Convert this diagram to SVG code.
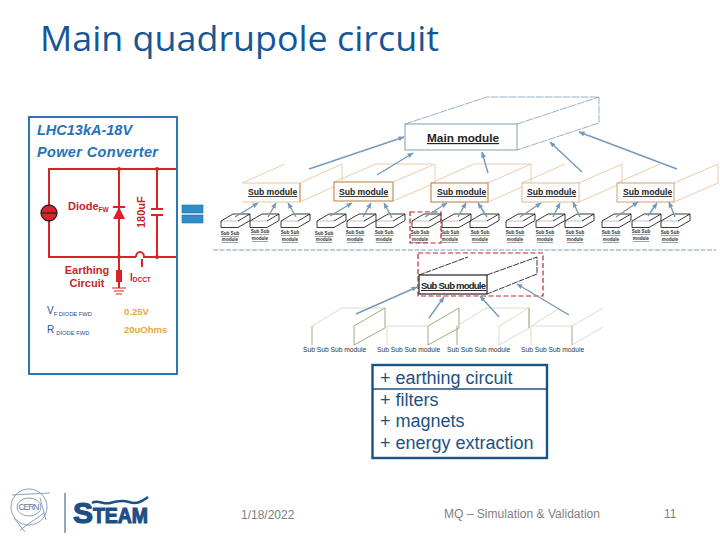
<svg xmlns="http://www.w3.org/2000/svg" width="720" height="540" viewBox="0 0 720 540">
<style>
text{font-family:"Liberation Sans",Arial,sans-serif}
.w{fill:none;stroke:#d9232a;stroke-width:2}
.ar{fill:none;stroke:#7499ba;stroke-width:1.4;marker-end:url(#a)}
.mm{fill:#fff;stroke:#7e9fb5;stroke-width:1}
.md{fill:none;stroke:#7e9fb5;stroke-width:.8;stroke-dasharray:8 1}
.sm{fill:#fff;stroke:#c98f55;stroke-width:1.2}
.sd{fill:none;stroke:#e8c6a2;stroke-width:.9}
.bd{fill:none;stroke:#222;stroke-width:.9}
.bl{fill:none;stroke:#aaa;stroke-width:.7}
.g{fill:none;stroke:#8ea56f;stroke-width:.9}
.gl{fill:none;stroke:#cfdcbf;stroke-width:.9}
.lab{font-size:8.6px;font-weight:bold;fill:#222;text-decoration:underline}
.tiny{font-size:4.6px;font-weight:bold;fill:#333;text-decoration:underline;text-anchor:middle}
.ss{font-size:6.7px;fill:#333}
.red{fill:none;stroke:#c1272d;stroke-width:1.2;stroke-dasharray:5 2.5}
.ft{font-size:12px;fill:#808080}
.bx{font-size:18px;fill:#1a5285}
</style>
<defs>
<marker id="a" markerWidth="7" markerHeight="7" refX="5.5" refY="2.5" orient="auto" markerUnits="userSpaceOnUse"><path d="M0 0L6 2.5L0 5z" fill="#7499ba"/></marker>
<g id="t"><path class="bl" d="M0 0H17"/><path class="bd" d="M0 0V6.500H17L29-.5V-7H12L0 0M17 0L29-7"/></g>
</defs>
<text id="title" x="40" y="51" style="font-family:'Open Sans','Noto Sans',sans-serif" font-size="35" fill="#175694" textLength="399" lengthAdjust="spacingAndGlyphs">Main quadrupole circuit</text>

<g id="power-converter">
<rect x="29" y="117" width="148" height="257" fill="#fff" stroke="#2f75b5" stroke-width="2"/>
<text x="37" y="135" font-size="14.500" font-weight="bold" font-style="italic" fill="#2673b5">LHC13kA-18V</text>
<text x="37" y="157" font-size="14.500" font-weight="bold" font-style="italic" fill="#2673b5" textLength="121">Power Converter</text>
<path class="w" d="M176 169H49V257H136M136 257a4 5 0 0 1 8 0H176M119 169V288M157 169V209M157 215V257"/>
<circle cx="119" cy="257" r="2" fill="#d9232a"/><circle cx="157" cy="257" r="2" fill="#d9232a"/><circle cx="119" cy="169" r="2" fill="#d9232a"/><circle cx="157" cy="169" r="2" fill="#d9232a"/>
<circle cx="49" cy="213" r="8" fill="#d9232a" stroke="#222" stroke-width="1.300"/><path d="M41 213H57" stroke="#222" stroke-width="1.300"/>
<path d="M113 219L125 219L119 207z" fill="#d9232a"/><path d="M113 207H125" stroke="#d9232a" stroke-width="2"/>
<path d="M151 209H163M151 215H163" stroke="#d9232a" stroke-width="2"/>
<rect x="116" y="270" width="6" height="12" fill="#d9232a"/>
<path d="M112 288H126M114 291H124M116 294H122" stroke="#d9232a" stroke-width="1.200"/>
<path d="M142 267V259" stroke="#d9232a" stroke-width="2"/>
<text x="68" y="210" font-size="11" font-weight="bold" fill="#c1272d">Diode<tspan font-size="6.500" dy="2">FW</tspan></text>
<text transform="translate(145 228) rotate(-90)" font-size="11" font-weight="bold" fill="#c1272d">180uF</text>
<text x="87" y="274" text-anchor="middle" font-size="11" font-weight="bold" fill="#c1272d">Earthing</text>
<text x="87" y="287" text-anchor="middle" font-size="11" font-weight="bold" fill="#c1272d">Circuit</text>
<text x="130" y="281" font-size="10" font-weight="bold" fill="#c1272d">I<tspan font-size="6.500" dy="1">DCCT</tspan></text>
<text x="47" y="314" font-size="10" fill="#2b4f8c">V<tspan font-size="5.800" dy="2">F DIODE FWD</tspan></text>
<text x="47" y="333" font-size="10" fill="#2b4f8c">R<tspan font-size="5.800" dy="2" dx="2">DIODE FWD</tspan></text>
<text x="124" y="315" font-size="9.500" font-weight="bold" fill="#e6a73c">0.25V</text>
<text x="124" y="333" font-size="9.500" font-weight="bold" fill="#e6a73c">20uOhms</text>
</g>

<g id="equals"><rect x="182" y="205" width="21" height="8" fill="#2e8fc8" stroke="#1f6f9f" stroke-width=".6"/><rect x="182" y="215" width="21" height="8" fill="#2e8fc8" stroke="#1f6f9f" stroke-width=".6"/></g>

<g id="main-module">
<path class="md" d="M405 124L487 97H599V123L517 150M517 124L599 97"/>
<rect class="mm" x="405" y="124" width="112" height="26"/>
<text x="427" y="142" font-size="11.800" font-weight="bold" fill="#222" text-decoration="underline">Main module</text>
</g>

<g id="sub-module-1"><path class="sd" d="M242 183L285 164M300 183L342 164V183L300 202"/><path d="M242 183H300V202H242" fill="#fff" stroke="#e8c6a2"/><path d="M300 183V202" stroke="#c98f55"/><text class="lab" x="248" y="195">Sub module</text></g>
<g id="sub-module-2"><path class="sd" d="M393 182L435 164V183L393 201M334 182L376 164H432"/><rect class="sm" x="334" y="182" width="59" height="19"/><text class="lab" x="339" y="195">Sub module</text></g>
<g id="sub-module-3"><path class="sd" d="M488 183L531 164V183L488 202M431 183L474 164H531"/><rect class="sm" x="431" y="183" width="57" height="19"/><text class="lab" x="437" y="195">Sub module</text></g>
<g id="sub-module-4"><path class="sd" d="M579 183L622 164V183L579 202M522 183L565 164"/><rect x="522" y="183" width="57" height="19" fill="#fff" stroke="#e3c4a5" stroke-width="1.200"/><text class="lab" x="527" y="195">Sub module</text></g>
<g id="sub-module-5"><path class="sd" d="M674 183L718 164V183L674 202M617 183L660 164"/><rect x="617" y="183" width="57" height="19" fill="#fff" stroke="#d9b088" stroke-width="1.200"/><text class="lab" x="623" y="195">Sub module</text></g>

<g id="sub-sub-blocks">
<use href="#t" x="221" y="221"/><use href="#t" x="250" y="221"/><use href="#t" x="281" y="221"/>
<use href="#t" x="317" y="221"/><use href="#t" x="347" y="221"/><use href="#t" x="376" y="221"/>
<use href="#t" x="412" y="221"/><use href="#t" x="442" y="221"/><use href="#t" x="470" y="221"/>
<use href="#t" x="506" y="221"/><use href="#t" x="536" y="221"/><use href="#t" x="565" y="221"/>
<use href="#t" x="602" y="221"/><use href="#t" x="632" y="221"/><use href="#t" x="661" y="221"/>
</g>
<g id="sub-sub-labels">
<text class="tiny" x="230" y="235">Sub Sub</text><text class="tiny" x="230" y="241">module</text>
<text class="tiny" x="260" y="233">Sub Sub</text><text class="tiny" x="260" y="240">module</text>
<text class="tiny" x="290" y="234">Sub Sub</text><text class="tiny" x="290" y="241">module</text>
<text class="tiny" x="324" y="235">Sub Sub</text><text class="tiny" x="324" y="241">module</text>
<text class="tiny" x="355" y="234">Sub Sub</text><text class="tiny" x="355" y="241">module</text>
<text class="tiny" x="384" y="234">Sub Sub</text><text class="tiny" x="384" y="241">module</text>
<text class="tiny" x="420" y="234">Sub Sub</text><text class="tiny" x="420" y="241">module</text>
<text class="tiny" x="450" y="234">Sub Sub</text><text class="tiny" x="450" y="241">module</text>
<text class="tiny" x="480" y="234">Sub Sub</text><text class="tiny" x="480" y="241">module</text>
<text class="tiny" x="515" y="234">Sub Sub</text><text class="tiny" x="515" y="241">module</text>
<text class="tiny" x="545" y="234">Sub Sub</text><text class="tiny" x="545" y="241">module</text>
<text class="tiny" x="575" y="234">Sub Sub</text><text class="tiny" x="575" y="241">module</text>
<text class="tiny" x="611" y="234">Sub Sub</text><text class="tiny" x="611" y="241">module</text>
<text class="tiny" x="641" y="233">Sub Sub</text><text class="tiny" x="641" y="240">module</text>
<text class="tiny" x="670" y="234">Sub Sub</text><text class="tiny" x="670" y="241">module</text>
</g>

<path id="divider" d="M213 250H716" fill="none" stroke="#7aa0c4" stroke-width="1.200" stroke-dasharray="5 1.500"/>
<rect id="selection-small" class="red" x="410" y="212" width="31" height="31"/>

<g id="sub-sub-module">
<rect class="red" x="418" y="253" width="125" height="43"/>
<path d="M419 275L468 257M487 275L537 257V274L487 294" fill="none" stroke="#222" stroke-width=".9" stroke-dasharray="6 1"/>
<rect x="419" y="275" width="68" height="19" fill="#fff" stroke="#222" stroke-width="1.200"/>
<text x="421" y="289" font-size="9.500" font-weight="bold" fill="#222" text-decoration="underline" textLength="65">Sub Sub module</text>
</g>

<g id="sub-sub-sub-1"><path class="gl" d="M312 326L342 308H385"/><path class="g" d="M312 326V345M354 326L385 308V328L354 345V326"/><text class="ss" x="303" y="352">Sub Sub Sub module</text></g>
<g id="sub-sub-sub-2"><path class="gl" d="M387 345V326H428"/><path class="g" d="M428 326L459 308V328L428 345V326"/><text class="ss" x="377" y="352">Sub Sub Sub module</text></g>
<g id="sub-sub-sub-3"><path class="gl" d="M457 326L486 308H529M499 326L529 308V328L499 345V326"/><path class="g" d="M457 345V326M529 308V328"/><text class="ss" x="447" y="352">Sub Sub Sub module</text></g>
<g id="sub-sub-sub-4"><path class="gl" d="M531 345V326H572M531 326L560 308M572 345L603 327M572 326L603 308"/><path class="g" d="M572 326V345"/><text class="ss" x="521" y="352">Sub Sub Sub module</text></g>

<g id="connectors">
<path class="ar" d="M309 169L404 137"/><path class="ar" d="M377 175L413 153"/><path class="ar" d="M488 173L482 152"/><path class="ar" d="M582 172L550 142"/><path class="ar" d="M677 169L579 132"/>
<path class="ar" d="M235 217L258 203"/><path class="ar" d="M268 217L276 203"/><path class="ar" d="M296 217L288 203"/>
<path class="ar" d="M330 216L352 203"/><path class="ar" d="M363 217L371 203"/><path class="ar" d="M392 218L384 203"/>
<path class="ar" d="M425 217L447 203"/><path class="ar" d="M458 217L466 203"/><path class="ar" d="M487 217L478 203"/>
<path class="ar" d="M520 217L541 203"/><path class="ar" d="M553 217L560 203"/><path class="ar" d="M580 217L573 202"/>
<path class="ar" d="M616 217L638 202"/><path class="ar" d="M648 216L657 203"/><path class="ar" d="M675 217L669 202"/>
<path class="ar" d="M356 314L417 287"/><path class="ar" d="M429 318L444 297"/><path class="ar" d="M499 317L480 296"/><path class="ar" d="M569 315L517 284"/>
</g>

<g id="notes">
<rect x="372.500" y="365" width="174.500" height="93" fill="#fff" stroke="#1a5285" stroke-width="2.400"/>
<path d="M372 389H547" stroke="#1a5285" stroke-width="1.400"/>
<text class="bx" x="380" y="384">+ earthing circuit</text>
<text class="bx" x="380" y="406">+ filters</text>
<text class="bx" x="380" y="427">+ magnets</text>
<text class="bx" x="380" y="449">+ energy extraction</text>
</g>

<g id="cern-logo" fill="none" stroke="#5a7a9a" stroke-width=".7">
<circle cx="29" cy="507" r="18"/><ellipse cx="29" cy="507" rx="12" ry="9"/><path d="M12 495L50 493M14 518L25 532M40 498L46 520M20 530L44 513"/>
<text x="29" y="510" text-anchor="middle" font-size="8.500" fill="#5a7a9a" stroke="none" textLength="21">CERN</text>
</g>
<g id="steam-logo">
<path d="M65 493V533" stroke="#28507c" stroke-width="1"/>
<path d="M92 503c6-4 11 2 18 0s12-3 19-1 11 1 19-5" fill="none" stroke="#1d4f86" stroke-width="2.500"/>
<text x="73" y="523" font-size="30" font-weight="bold" fill="#1d4f86" stroke="#1d4f86" stroke-width="1.200">S<tspan font-size="22" textLength="55" lengthAdjust="spacingAndGlyphs">TEAM</tspan></text>
</g>
<text class="ft" x="241" y="519">1/18/2022</text>
<text class="ft" x="444" y="518" textLength="156">MQ – Simulation &amp; Validation</text>
<text class="ft" x="664" y="518">11</text>
</svg>
